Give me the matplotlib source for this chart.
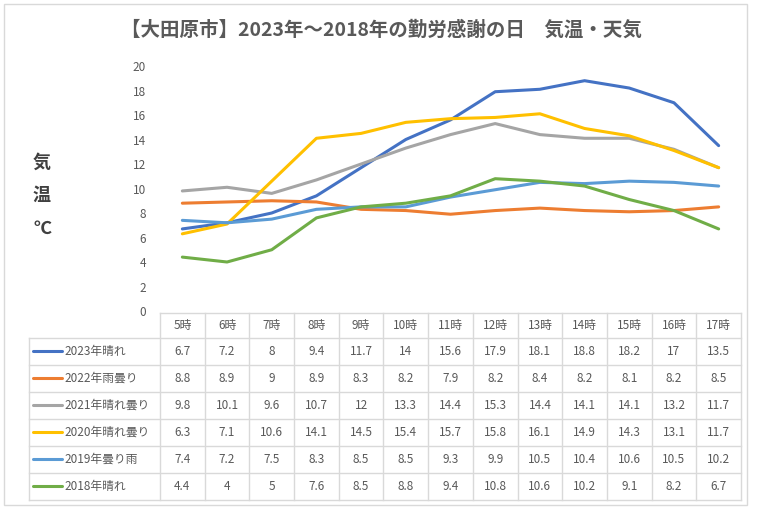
import matplotlib
matplotlib.use("Agg")
import matplotlib.pyplot as plt
from matplotlib.patches import Rectangle

plt.rcParams['font.family'] = ['Noto Sans CJK JP', 'DejaVu Sans']

hours = ['5時', '6時', '7時', '8時', '9時', '10時', '11時', '12時', '13時', '14時', '15時', '16時', '17時']
series_names = ['2023年晴れ', '2022年雨曇り', '2021年晴れ曇り', '2020年晴れ曇り', '2019年曇り雨', '2018年晴れ']
t2023 = [6.7, 7.2, 8, 9.4, 11.7, 14, 15.6, 17.9, 18.1, 18.8, 18.2, 17, 13.5]
t2022 = [8.8, 8.9, 9, 8.9, 8.3, 8.2, 7.9, 8.2, 8.4, 8.2, 8.1, 8.2, 8.5]
t2021 = [9.8, 10.1, 9.6, 10.7, 12, 13.3, 14.4, 15.3, 14.4, 14.1, 14.1, 13.2, 11.7]
t2020 = [6.3, 7.1, 10.6, 14.1, 14.5, 15.4, 15.7, 15.8, 16.1, 14.9, 14.3, 13.1, 11.7]
t2019 = [7.4, 7.2, 7.5, 8.3, 8.5, 8.5, 9.3, 9.9, 10.5, 10.4, 10.6, 10.5, 10.2]
t2018 = [4.4, 4, 5, 7.6, 8.5, 8.8, 9.4, 10.8, 10.6, 10.2, 9.1, 8.2, 6.7]
series = [t2023, t2022, t2021, t2020, t2019, t2018]
colors = ['#4472C4', '#ED7D31', '#A5A5A5', '#FFC000', '#5B9BD5', '#70AD47']

W, H = 760, 511
txt = '#595959'
grid = '#D9D9D9'

fig = plt.figure(figsize=(W / 100, H / 100), dpi=100)
fig.patch.set_facecolor('white')

# overlay axes in pixel units for frame + data table
ov = fig.add_axes([0, 0, 1, 1])
ov.set_xlim(0, W)
ov.set_ylim(H, 0)
ov.axis('off')
ov.add_patch(Rectangle((4, 4), 743, 501, fill=False, edgecolor=grid, lw=1))

# plot area
x0, x1, ytop, ybot = 160, 741, 66, 311
ax = fig.add_axes([x0 / W, (H - ybot) / H, (x1 - x0) / W, (ybot - ytop) / H])
ax.set_xlim(-0.5, len(hours) - 0.5)
ax.set_ylim(0, 20)
ax.set_yticks(range(0, 21, 2))
ax.set_xticks([])
for s in ax.spines.values():
    s.set_visible(False)
ax.tick_params(axis='y', length=0, labelsize=8.5, labelcolor=txt, pad=10)
ax.patch.set_alpha(0)
xs = list(range(len(hours)))
for vals, c in zip(series, colors):
    ax.plot(xs, vals, color=c, lw=2.2, solid_capstyle='round')

fig.text(381 / W, 1 - 30 / H, '【大田原市】2023年～2018年の勤労感謝の日　気温・天気',
         ha='center', va='center', fontsize=14, fontweight='bold', color=txt)
for i, ch in enumerate(['気', '温', '℃']):
    ov.text(42, 162 + i * 33, ch, ha='center', va='center', fontsize=13,
            fontweight='bold', color='#404040')

# data table
cw = (x1 - x0) / len(hours)
head_top, head_bot = 313, 338
rh = 27
lx = 29
ov.plot([x0, x1], [head_top, head_top], color=grid, lw=1)
ov.plot([lx, x1], [head_bot, head_bot], color=grid, lw=1)
for r in range(len(series)):
    yb = head_bot + (r + 1) * rh
    ov.plot([lx, x1], [yb, yb], color=grid, lw=1)
for k in range(len(hours) + 1):
    xx = x0 + k * cw
    ov.plot([xx, xx], [head_top, head_bot + len(series) * rh], color=grid, lw=1)
ov.plot([lx, lx], [head_bot, head_bot + len(series) * rh], color=grid, lw=1)
for k, h in enumerate(hours):
    ov.text(x0 + (k + 0.5) * cw, (head_top + head_bot) / 2, h, ha='center', va='center',
            fontsize=8.5, color=txt)
for r, (name, vals, c) in enumerate(zip(series_names, series, colors)):
    yc = head_bot + (r + 0.5) * rh
    ov.plot([33, 62], [yc, yc], color=c, lw=2.2, solid_capstyle='round')
    ov.text(64, yc, name, ha='left', va='center', fontsize=8.5, color=txt)
    for k, v in enumerate(vals):
        ov.text(x0 + (k + 0.5) * cw, yc, f'{v:g}', ha='center', va='center',
                fontsize=8.5, color=txt)

fig.savefig('out.png', dpi=100)
